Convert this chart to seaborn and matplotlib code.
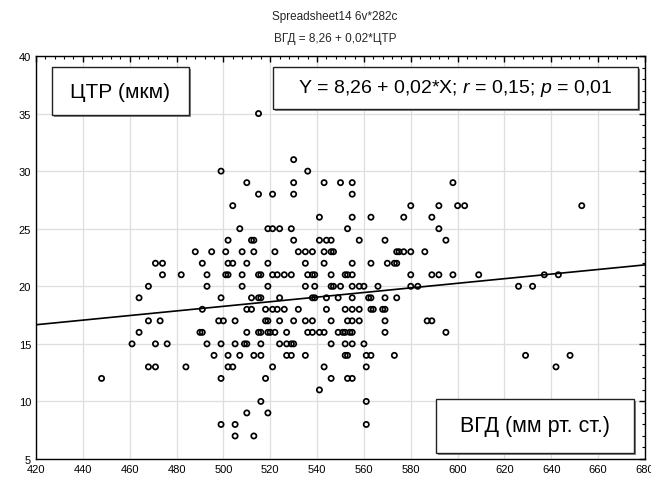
import matplotlib
matplotlib.use("Agg")
import matplotlib.pyplot as plt
import seaborn as sns
import pandas as pd
import numpy as np
from matplotlib.patches import Rectangle
from matplotlib.ticker import MultipleLocator

# ---- data (ЦТР on x, ВГД on y), grouped by ВГД rows ----
ctr = [
    515,
    530,
    499, 536,
    510, 530, 543, 550, 555, 598,
    515, 521, 530, 555,
    504, 580, 592, 600, 603, 653,
    541, 555, 563, 577, 589,
    507, 519, 521, 524, 529, 553, 592,
    502, 512, 513, 530, 541, 544, 546, 558, 569, 595,
    488, 495, 501, 508, 513, 522, 532, 535, 538, 543, 546, 547, 574, 575, 577, 580, 586,
    471, 474, 491, 502, 504, 510, 519, 535, 543, 555, 563, 570, 573, 574,
    474, 482, 493, 501, 502, 508, 515, 516, 521, 523, 526, 529, 536, 538, 539, 546, 552, 553, 555, 580, 589, 592, 598, 609, 637, 643,
    468, 493, 508, 519, 535, 539, 546, 547, 550, 555, 558, 560, 566, 580, 583, 626, 632,
    464, 499, 512, 515, 516, 524, 538, 539, 544, 549, 555, 562, 563, 569, 574,
    491, 510, 512, 518, 521, 523, 526, 532, 544, 552, 555, 558, 563, 564, 568, 569,
    468, 473, 498, 500, 505, 518, 519, 524, 530, 535, 538, 546, 553, 555, 558, 569, 587, 589,
    464, 490, 491, 510, 515, 516, 519, 520, 522, 527, 536, 538, 541, 543, 549, 551, 552, 554, 555, 569, 595,
    461, 471, 476, 493, 499, 505, 509, 510, 516, 524, 527, 529, 530, 546, 552, 555, 560,
    496, 502, 507, 513, 516, 527, 529, 535, 552, 553, 561, 563, 573, 629, 648,
    468, 471, 484, 502, 504, 521, 543, 561, 642,
    448, 499, 518, 546, 553, 555,
    541,
    516, 561,
    510, 519,
    499, 505, 561,
    505, 513,
]
vgd = [
    35,
    31,
    30, 30,
    29, 29, 29, 29, 29, 29,
    28, 28, 28, 28,
    27, 27, 27, 27, 27, 27,
    26, 26, 26, 26, 26,
    25, 25, 25, 25, 25, 25, 25,
    24, 24, 24, 24, 24, 24, 24, 24, 24, 24,
    23, 23, 23, 23, 23, 23, 23, 23, 23, 23, 23, 23, 23, 23, 23, 23, 23,
    22, 22, 22, 22, 22, 22, 22, 22, 22, 22, 22, 22, 22, 22,
    21, 21, 21, 21, 21, 21, 21, 21, 21, 21, 21, 21, 21, 21, 21, 21, 21, 21, 21, 21, 21, 21, 21, 21, 21, 21,
    20, 20, 20, 20, 20, 20, 20, 20, 20, 20, 20, 20, 20, 20, 20, 20, 20,
    19, 19, 19, 19, 19, 19, 19, 19, 19, 19, 19, 19, 19, 19, 19,
    18, 18, 18, 18, 18, 18, 18, 18, 18, 18, 18, 18, 18, 18, 18, 18,
    17, 17, 17, 17, 17, 17, 17, 17, 17, 17, 17, 17, 17, 17, 17, 17, 17, 17,
    16, 16, 16, 16, 16, 16, 16, 16, 16, 16, 16, 16, 16, 16, 16, 16, 16, 16, 16, 16, 16,
    15, 15, 15, 15, 15, 15, 15, 15, 15, 15, 15, 15, 15, 15, 15, 15, 15,
    14, 14, 14, 14, 14, 14, 14, 14, 14, 14, 14, 14, 14, 14, 14,
    13, 13, 13, 13, 13, 13, 13, 13, 13,
    12, 12, 12, 12, 12, 12,
    11,
    10, 10,
    9, 9,
    8, 8, 8,
    7, 7,
]

intercept = 8.26
slope = 0.02
x_ticks = [420, 440, 460, 480, 500, 520, 540, 560, 580, 600, 620, 640, 660, 680]
y_ticks = [5, 10, 15, 20, 25, 30, 35, 40]
title_lines = ["Spreadsheet14 6v*282c", "ВГД = 8,26 + 0,02*ЦТР"]
box_x_label = "ЦТР (мкм)"
box_y_label = "ВГД (мм рт. ст.)"
box_stats = "Y = 8,26 + 0,02*X; $r$ = 0,15; $p$ = 0,01"

df = pd.DataFrame({"ЦТР": ctr, "ВГД": vgd})

sns.set_theme(style="white")
plt.rcParams['font.family'] = ['Liberation Sans', 'DejaVu Sans']
plt.rcParams['mathtext.fontset'] = 'custom'
plt.rcParams['mathtext.it'] = 'Liberation Sans:italic'
plt.rcParams['mathtext.rm'] = 'Liberation Sans'

W, H = 651, 481
fig = plt.figure(figsize=(W / 100, H / 100), dpi=100)
fig.patch.set_facecolor("white")
ax = fig.add_axes([36 / W, 21 / H, 609 / W, 403 / H])
ax.set_facecolor("white")

ax.set_xlim(x_ticks[0], x_ticks[-1])
ax.set_ylim(y_ticks[0], y_ticks[-1])
ax.set_xticks(x_ticks)
ax.set_yticks(y_ticks)
ax.xaxis.set_minor_locator(MultipleLocator(4))
ax.yaxis.set_minor_locator(MultipleLocator(1))
ax.grid(True, which="major", color="#dedede", linewidth=0.9, zorder=0)
ax.set_axisbelow(True)

ax.tick_params(which="both", direction="in", top=True, right=True,
               color="black", labelsize=8, labelcolor="black")
ax.tick_params(which="major", length=4, width=1.0, pad=3.5)
ax.tick_params(which="minor", length=2, width=0.8)
for sp in ax.spines.values():
    sp.set_color("black")
    sp.set_linewidth(1.0)
    sp.set_visible(True)

sns.scatterplot(data=df, x="ЦТР", y="ВГД", ax=ax, marker="o", s=14,
                facecolor="none", edgecolor="black", linewidth=1.25, zorder=3)
ax.set_xlabel("")
ax.set_ylabel("")

xs = np.array(ax.get_xlim())
ax.plot(xs, intercept + slope * xs, color="black", linewidth=1.2, zorder=4)
ax.set_xlim(x_ticks[0], x_ticks[-1])

def box(x0, y0, x1, y1, text, fs):
    ax.add_patch(Rectangle((x0 + 0.003, y0 - 0.004), x1 - x0, y1 - y0,
                           transform=ax.transAxes, facecolor="#888888",
                           edgecolor="none", zorder=5))
    ax.add_patch(Rectangle((x0, y0), x1 - x0, y1 - y0, transform=ax.transAxes,
                           facecolor="white", edgecolor="#222222",
                           linewidth=1.0, zorder=6))
    ax.text((x0 + x1) / 2, (y0 + y1) / 2, text, transform=ax.transAxes,
            ha="center", va="center", fontsize=fs, color="black", zorder=7)

box(0.0263, 0.8536, 0.2512, 0.9727, box_x_label, 15)
box(0.389, 0.8685, 0.9885, 0.9727, box_stats, 14)
box(0.6568, 0.0149, 0.9819, 0.1489, box_y_label, 15.5)

fig.text(335 / W, 1 - 17 / H, title_lines[0], ha="center", va="center", fontsize=8.5)
fig.text(335 / W, 1 - 39 / H, title_lines[1], ha="center", va="center", fontsize=8.5)

fig.savefig("out.png", dpi=100)
